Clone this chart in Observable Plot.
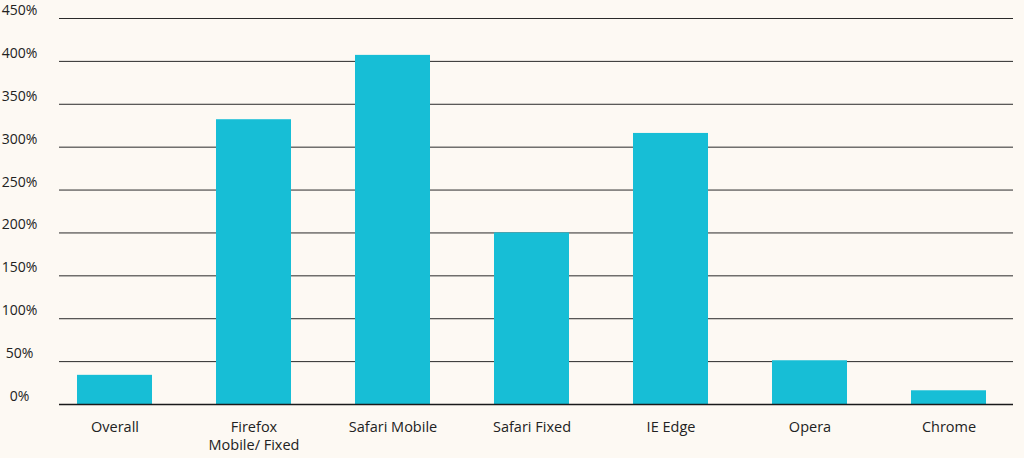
<!DOCTYPE html>
<html>
<head>
<meta charset="utf-8">
<script src="https://cdn.jsdelivr.net/npm/d3@7"></script>
<script src="https://cdn.jsdelivr.net/npm/@observablehq/plot@0.6"></script>
<style>
  html, body { margin: 0; padding: 0; background: #fdf9f3; }
  #chart { width: 1024px; height: 458px; }
  svg { display: block; }
</style>
</head>
<body>
<div id="chart"></div>
<script>
const categories = ["Overall", "Firefox Mobile/ Fixed", "Safari Mobile", "Safari Fixed", "IE Edge", "Opera", "Chrome"];
const tickLabels = ["Overall", "Firefox\nMobile/ Fixed", "Safari Mobile", "Safari Fixed", "IE Edge", "Opera", "Chrome"];
const values = [34, 332, 407, 200, 316, 51, 16];
const yTicks = [0, 50, 100, 150, 200, 250, 300, 350, 400, 450];

const data = categories.map((c, i) => ({category: c, value: values[i]}));
const labelFor = new Map(categories.map((c, i) => [c, tickLabels[i]]));

const chart = Plot.plot({
  width: 1024,
  height: 458,
  marginTop: 18,
  marginBottom: 54,
  marginLeft: 44,
  marginRight: 5,
  style: {background: "#fdf9f3", fontFamily: "'Open Sans', Lato, sans-serif", color: "#222"},
  x: {domain: categories, paddingInner: 0.46, paddingOuter: 0.23, label: null},
  y: {domain: [0, 450], label: null},
  marks: [
    Plot.ruleY(yTicks, {stroke: "#2a2a2a", strokeWidth: 1, insetLeft: 15, insetRight: 6}),
    Plot.barY(data, {x: "category", y: "value", fill: "#17bed6"}),
    Plot.ruleY([0], {stroke: "#1a1a1a", strokeWidth: 1.5, insetLeft: 15, insetRight: 6}),
    Plot.axisY({ticks: yTicks, tickSize: 0, tickPadding: 25, tickFormat: d => d + "%", fontSize: 14, textAnchor: "middle", dy: -8}),
    Plot.axisX({tickSize: 0, tickPadding: 15, fontSize: 14.5, tickFormat: d => labelFor.get(d), lineHeight: 1.22})
  ]
});
document.getElementById("chart").appendChild(chart);
</script>
</body>
</html>
